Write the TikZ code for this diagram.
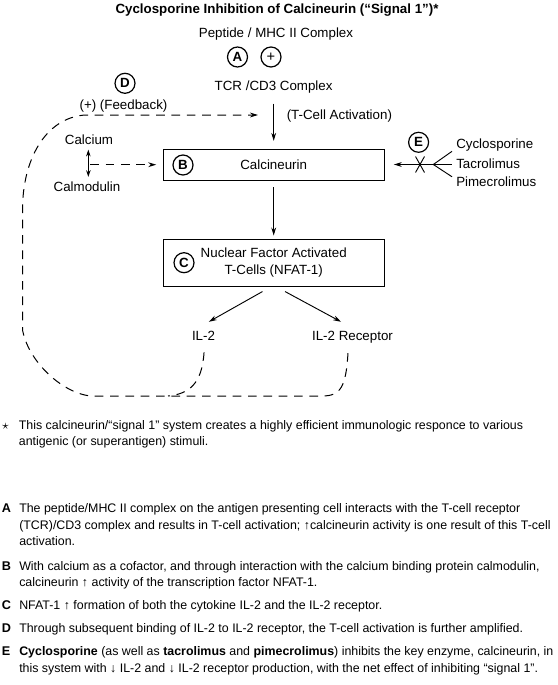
\documentclass[tikz,border=0pt]{standalone}
\usepackage{fontspec}
\setmainfont{Liberation Sans}
\usetikzlibrary{arrows.meta}
\begin{document}
\begin{tikzpicture}[x=0.75pt,y=-0.75pt,
  every node/.style={inner sep=0pt, font=\fontsize{10pt}{12pt}\selectfont},
  lbl/.style={anchor=base},
  lblw/.style={anchor=base west},
  circ/.style={draw, circle, line width=0.9pt, minimum size=15pt, inner sep=0pt, font=\bfseries\fontsize{10pt}{12pt}\selectfont},
  boxnode/.style={draw, line width=0.75pt, minimum width=165.5pt, align=center, font=\fontsize{10pt}{13pt}\selectfont},
  arr/.style={line width=0.7pt, -{Stealth[length=6pt,width=3.6pt]}},
  darr/.style={line width=0.7pt, {Stealth[length=5pt,width=3.4pt]}-{Stealth[length=5pt,width=3.4pt]}},
  fb/.style={line width=0.75pt, dash pattern=on 6.5pt off 5pt},
  plain/.style={line width=0.7pt},
  para/.style={anchor=base west, font=\fontsize{9.3pt}{12pt}\selectfont},
  tag/.style={anchor=base west, font=\bfseries\fontsize{9.5pt}{12pt}\selectfont}
]
\useasboundingbox (0,0) rectangle (557,685);

% title
\node[lbl, font=\bfseries\fontsize{10pt}{12pt}\selectfont] (title) at (277,13.5) {Cyclosporine Inhibition of Calcineurin (“Signal 1”)*};

% top
\node[lbl] (pep) at (276,38) {Peptide / MHC II Complex};
\node[circ] (cA) at (237.5,57) {A};
\node[circ, font=\fontsize{11pt}{12pt}\selectfont] (cplus) at (271,57) {+};
\node[lbl] (tcr) at (273.6,90.5) {TCR /CD3 Complex};
\node[lblw] (tact) at (286.5,119.5) {(T-Cell Activation)};
\node[circ] (cD) at (125,83.3) {D};
\node[lbl] (feed) at (123.5,109) {(+) (Feedback)};

% boxes
\node[boxnode, minimum height=23pt] (boxB) at (273.7,164.7) {Calcineurin};
\node[circ] (cB) at (183,165) {B};
\node[boxnode, minimum height=35pt] (boxC) at (273.7,262.7) {Nuclear Factor Activated\\T-Cells (NFAT-1)};
\node[circ] (cC) at (184,262.7) {C};

% calcium / calmodulin
\node[lbl] (calc) at (89,144) {Calcium};
\node[lbl] (calm) at (87,191.7) {Calmodulin};
\coordinate (camid) at (88.3,164.7);
\draw[darr] ([xshift=-0.5pt,yshift=-4pt]calc.south) -- ([xshift=-0.5pt,yshift=3.7pt]calc.south |- calm.north);
\draw[fb, -{Stealth[length=6pt,width=3.6pt]}, shorten <=1.5pt, shorten >=5pt] (camid) -- (boxB.west);

% E inhibitors
\node[circ] (cE) at (418.6,142.3) {E};
\node[lblw] (cyc) at (456,148.3) {Cyclosporine};
\node[lblw] (tacro) at (456,168) {Tacrolimus};
\node[lblw] (pime) at (456,186.7) {Pimecrolimus};
\coordinate (branch) at (433.3,164.5);
\draw[arr, shorten >=7pt] (branch) -- (boxB.east |- branch);
\draw[plain] (branch) -- ([xshift=-3pt]cyc.south west);
\draw[plain] (branch) -- ++(18.4,0);
\draw[plain] (branch) -- ([xshift=-3pt]pime.north west);
\draw[plain] (415.5,156.5) -- (424.5,172.5);
\draw[plain] (415.5,172.5) -- (424.5,156.5);

% main arrows
\draw[arr, shorten <=7.5pt, shorten >=6pt] (boxB.north |- tcr.south) -- (boxB.north);
\draw[arr, shorten <=5pt, shorten >=2.5pt] (boxB.south) -- (boxC.north);

% outputs
\node[lbl] (il2) at (203.5,340.7) {IL-2};
\node[lbl] (il2r) at (352.5,340.7) {IL-2 Receptor};
\draw[arr] ([xshift=-8.4pt,yshift=-3.75pt]boxC.south) -- ([xshift=4pt,yshift=7pt]il2.north);
\draw[arr] ([xshift=8.5pt,yshift=-3.75pt]boxC.south) -- ([xshift=-8.6pt,yshift=7pt]il2r.north);

% feedback loop
\coordinate (fbend) at (258,115);
\draw[fb, -{Stealth[length=6pt,width=3.6pt]}] ([xshift=-3.4pt,yshift=-7pt]il2r.south)
  .. controls (346,388) and (340,396) .. (322,396) -- (90,396)
  .. controls (60,392) and (28,360) .. (22.5,330) -- (22.5,210)
  .. controls (22.5,160) and (45,118) .. (85,115) -- (fbend);
\draw[fb] ([xshift=0.4pt,yshift=-8.5pt]il2.south) .. controls (202,385) and (188,394) .. (168,396);

% footnote
\node[lbl] (star) at (5.4,429) {$\star$};
\node[para] (foot) at (18.6,429) {\parbox[t]{600pt}{\baselineskip=12pt This calcineurin/“signal 1” system creates a highly efficient immunologic responce to various\\antigenic (or superantigen) stimuli.}};

% legend
\node[tag] (tA) at (1.7,512.7) {A};
\node[para] (pA) at (19,512.7) {\parbox[t]{600pt}{\baselineskip=12.3pt The peptide/MHC II complex on the antigen presenting cell interacts with the T-cell receptor\\(TCR)/CD3 complex and results in T-cell activation; ↑calcineurin activity is one result of this T-cell\\activation.}};
\node[tag] (tB) at (1.7,570) {B};
\node[para] (pB) at (19,570) {\parbox[t]{600pt}{\baselineskip=12.1pt With calcium as a cofactor, and through interaction with the calcium binding protein calmodulin,\\calcineurin ↑ activity of the transcription factor NFAT-1.}};
\node[tag] (tC) at (1.7,609.3) {C};
\node[para] (pC) at (19,609.3) {NFAT-1 ↑ formation of both the cytokine IL-2 and the IL-2 receptor.};
\node[tag] (tD) at (1.7,632.7) {D};
\node[para] (pD) at (19,632.7) {Through subsequent binding of IL-2 to IL-2 receptor, the T-cell activation is further amplified.};
\node[tag] (tE) at (1.7,655.7) {E};
\node[para] (pE) at (19,655.7) {\parbox[t]{600pt}{\baselineskip=12.6pt \textbf{Cyclosporine} (as well as \textbf{tacrolimus} and \textbf{pimecrolimus}) inhibits the key enzyme, calcineurin, in\\this system with ↓ IL-2 and ↓ IL-2 receptor production, with the net effect of inhibiting “signal 1”.}};
\end{tikzpicture}
\end{document}
